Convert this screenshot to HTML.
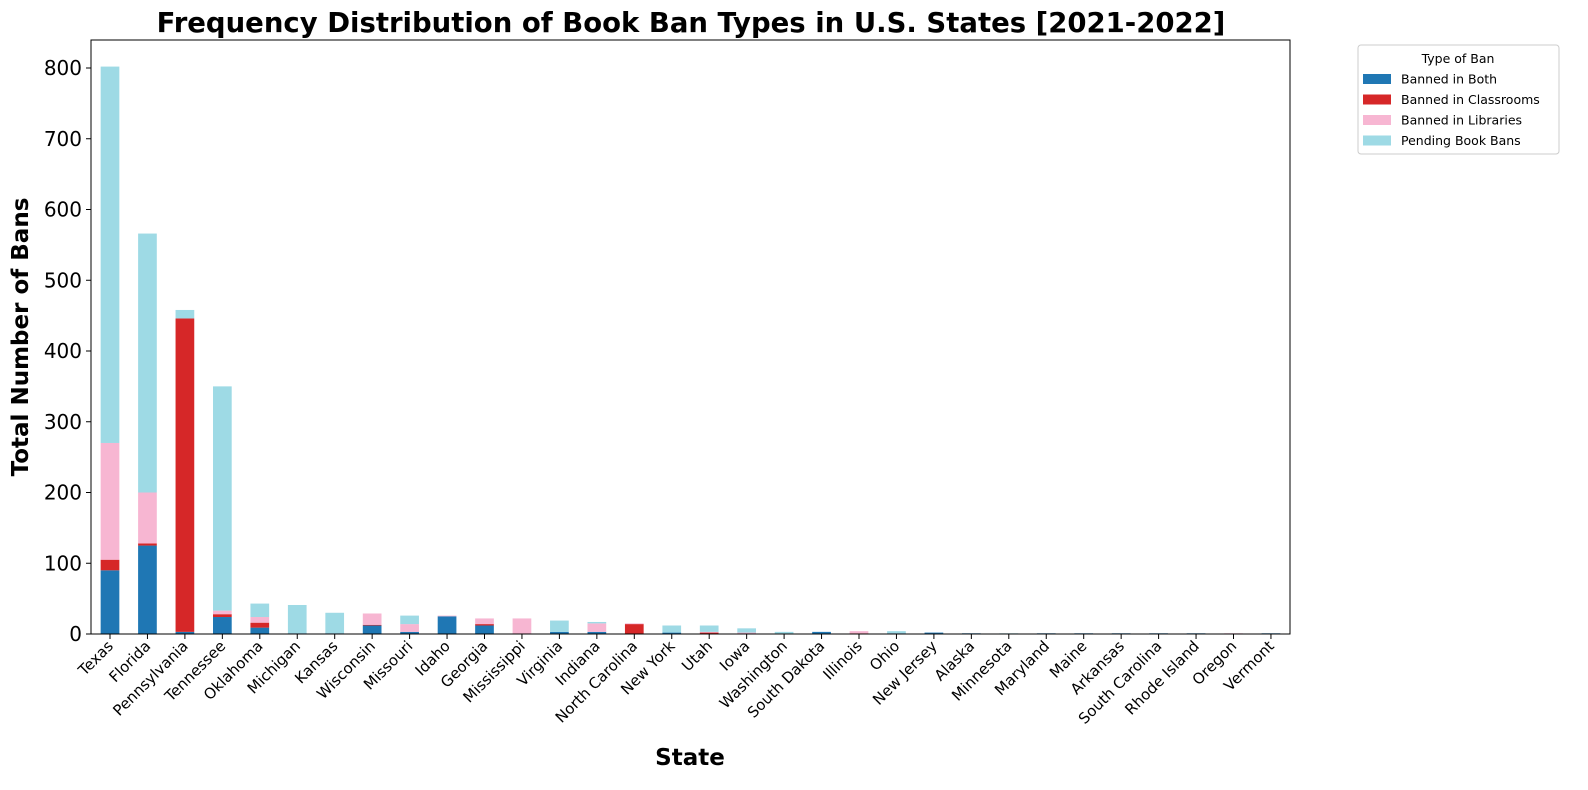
<!DOCTYPE html>
<html><head><meta charset="utf-8"><style>
body{margin:0;background:#fff;}
svg{display:block;font-family:"DejaVu Sans","Liberation Sans",sans-serif;}
</style></head><body>
<svg id="chart" width="1588" height="790">
<text x="691" y="32" text-anchor="middle" font-size="27.5" font-weight="bold">Frequency Distribution of Book Ban Types in U.S. States [2021-2022]</text>
<text transform="translate(28,337) rotate(-90)" text-anchor="middle" font-size="23" font-weight="bold">Total Number of Bans</text>
<text x="690" y="765" text-anchor="middle" font-size="23" font-weight="bold">State</text>
<g id="bars"></g><g id="axes"></g>
<rect x="91" y="40" width="1199" height="594" fill="none" stroke="#000" stroke-width="1"/>
<g>
<rect x="1358" y="45" width="201" height="109" fill="#fff" stroke="#ccc" rx="3"/>
<text x="1458" y="63" text-anchor="middle" font-size="12.5">Type of Ban</text>
<g id="legend"></g>
</g>
</svg>
<script>
const states=["Texas","Florida","Pennsylvania","Tennessee","Oklahoma","Michigan","Kansas","Wisconsin","Missouri","Idaho","Georgia","Mississippi","Virginia","Indiana","North Carolina","New York","Utah","Iowa","Washington","South Dakota","Illinois","Ohio","New Jersey","Alaska","Minnesota","Maryland","Maine","Arkansas","South Carolina","Rhode Island","Oregon","Vermont"];
const bannedBoth=[90,125,3,24,9,1,1,12,3,25,12,0,3,3,0,2,0,0,0,3,0,1,2,1,0,1,1,1,1,1,0,1];
const bannedClass=[15,3,443,4,7,0,0,1,0,0,2,0,0,0,14,0,2,0,0,0,1,0,0,0,0,0,0,0,0,0,0,0];
const bannedLib=[165,72,0,5,8,0,0,16,11,1,8,22,0,12,1,0,1,2,0,0,3,0,0,0,0,0,0,0,0,0,1,0];
const pending=[532,366,12,317,19,40,29,0,12,0,0,0,16,2,0,10,9,6,3,0,0,3,0,0,1,0,0,0,0,0,0,0];
const seriesNames=["Banned in Both","Banned in Classrooms","Banned in Libraries","Pending Book Bans"];
const yTicks=[0,100,200,300,400,500,600,700,800];
const colors=["#1f77b4","#d62728","#f7b6d2","#9edae5"];
const NS="http://www.w3.org/2000/svg";
const x0=91,x1=1290,yBase=634;
const yScale=v=>yBase-v*(566/800);
const xScale=i=>110+i*37.45;
const bw=18.7;
function mk(t,a){const e=document.createElementNS(NS,t);for(const k in a)e.setAttribute(k,a[k]);return e;}
const bars=document.getElementById('bars'),axes=document.getElementById('axes');
const series=[bannedBoth,bannedClass,bannedLib,pending];
states.forEach((s,i)=>{
 let acc=0;
 series.forEach((arr,k)=>{
  const v=arr[i]; if(v<=0)return;
  const r=mk('rect',{x:xScale(i)-bw/2,y:yScale(acc+v),width:bw,height:yScale(acc)-yScale(acc+v),fill:colors[k]});
  
  
  bars.appendChild(r); acc+=v;
 });
 const tk=mk('line',{x1:xScale(i),x2:xScale(i),y1:yBase,y2:yBase+5,stroke:'#000'});
 
 
 axes.appendChild(tk);
 const t=mk('text',{transform:`translate(${xScale(i)+4},${yBase+13}) rotate(-45)`,'text-anchor':'end','font-size':'15'});
 t.textContent=s;
 
 
 axes.appendChild(t);
});
yTicks.forEach(v=>{
 const tk=mk('line',{x1:x0-5,x2:x0,y1:yScale(v),y2:yScale(v),stroke:'#000'});
 
 
 axes.appendChild(tk);
 const t=mk('text',{x:x0-9,y:yScale(v)+7,'text-anchor':'end','font-size':'20'});
 t.textContent=v;
 
 
 axes.appendChild(t);
});
const lg=document.getElementById('legend');
seriesNames.forEach((n,k)=>{
 const y=79+k*20.5;
 const r=mk('rect',{x:1363,y:y-5,width:28,height:10,fill:colors[k]});
 
 
 lg.appendChild(r);
 const t=mk('text',{x:1401,y:y+4.5,'font-size':'12.5'});
 t.textContent=n;
 
 
 lg.appendChild(t);
});
</script>
</body></html>
